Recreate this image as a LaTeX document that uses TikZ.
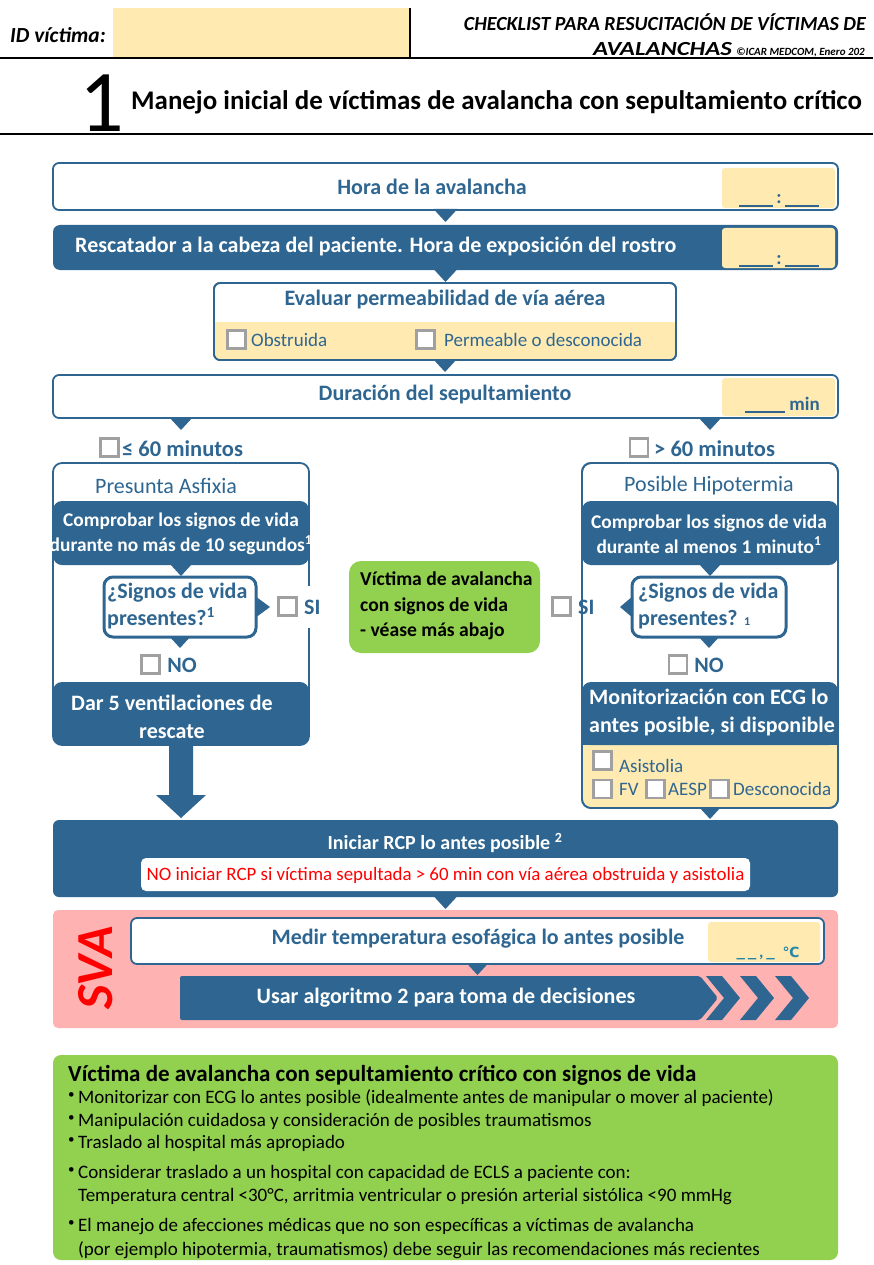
\documentclass[tikz,border=0pt]{standalone}
\usepackage{fontspec}
\setmainfont{Carlito}
\newfontfamily\djv{DejaVu Sans}
\usetikzlibrary{calc}
\definecolor{blu}{RGB}{46,102,145}
\definecolor{yel}{RGB}{255,234,178}
\definecolor{grn}{RGB}{146,208,80}
\definecolor{pnk}{RGB}{255,178,178}
\definecolor{chkg}{RGB}{160,160,160}
\definecolor{rd}{RGB}{255,0,0}
\newcommand\fsz[2]{\fontsize{#1pt}{#2pt}\selectfont}
\newcommand\blank{\rule[-3pt]{34pt}{1.8pt}}
\newcommand\dtri[2]{\fill[blu] ($#1+(-#2,-1)$) -- ($#1+(#2,-1)$) -- ($#1+(0,#2)$) -- cycle;}
\begin{document}
\begin{tikzpicture}[x=1pt,y=-1pt,
 box/.style={draw=blu,line width=1.8pt,fill=white,rounded corners=6pt,inner sep=0pt,outer sep=0pt},
 dark/.style={fill=blu,rounded corners=7pt,inner sep=0pt,outer sep=0pt},
 yb/.style={fill=yel,rounded corners=3pt,inner sep=0pt,outer sep=0pt},
 chk/.style={draw=chkg,line width=2.6pt,fill=white,minimum size=18pt,inner sep=0pt},
 tb/.style={inner sep=0pt,text=blu,font=\fsz{22}{26}\bfseries},
 tr/.style={inner sep=0pt,text=blu,font=\fsz{19}{23}},
 tw/.style={inner sep=0pt,text=white,font=\fsz{22}{28}\bfseries},
 tk/.style={inner sep=0pt,text=black,font=\fsz{19.6}{25.5}\bfseries},
 bl/.style={inner sep=0pt,anchor=base west,font=\fsz{19}{22}},
]
\useasboundingbox (0,0) rectangle (873,1265);
\clip (0,0) rectangle (873,1265);

% ---------- header
\node[fill=yel,minimum width=297pt,minimum height=49pt,inner sep=0pt,outer sep=0pt] (idbox) at (261.5,32.5) {};
\draw[line width=1.2pt] (idbox.north east) -- (idbox.south east);
\node[inner sep=0pt,anchor=west,font=\fsz{21.5}{24}\bfseries\itshape] (idl) at (10,35) {ID víctima:};
\node[inner sep=0pt,anchor=base east,font=\fsz{20}{22}\bfseries\itshape] (hd1) at (866,31) {CHECKLIST PARA RESUCITACIÓN DE VÍCTIMAS DE};
\node[inner sep=0pt,anchor=base west,font=\fsz{20}{22}\bfseries\itshape] (hd2) at (593,56) {\underline{\scalebox{1.24}[1]{AVALANCHAS}} {\fsz{11}{13}©ICAR MEDCOM, Enero 202}};
\draw[line width=2pt] (0,58) -- (873,58);
\node[inner sep=0pt,font=\fsz{88}{88}] (one) at (102,103) {1};
\node[inner sep=0pt,anchor=west,font=\fsz{26.9}{30}\bfseries] (ttl) at (131,102) {Manejo inicial de víctimas de avalancha con sepultamiento crítico};
\draw[line width=2pt] (0,134) -- (873,134);

% ---------- box 1
\node[box,minimum width=785pt,minimum height=47pt] (b1) at (445.5,186.5) {};
\node[yb,minimum width=113pt,minimum height=40pt] (y1) at (778.5,188) {};
\node[tb,anchor=base,font=\fsz{19}{22}\bfseries] (y1t) at (779,204) {\blank\,:\,\blank};
\node[tb] (b1t) at (432,187) {Hora de la avalancha};
\dtri{(b1.south)}{12}

% ---------- box 2
\node[dark,minimum width=785pt,minimum height=45pt] (b2) at (445.5,247.5) {};
\node[yb,minimum width=113pt,minimum height=40pt] (y2) at (778.5,248) {};
\node[tb,anchor=base,font=\fsz{19}{22}\bfseries] (y2t) at (779,264) {\blank\,:\,\blank};
\node[tw,anchor=west] (b2t) at (75,247) {Rescatador a la cabeza del paciente. Hora de exposición del rostro};
\dtri{(b2.south)}{12}

% ---------- box 3
\node[box,minimum width=462pt,minimum height=77pt] (b3) at (445,321.5) {};
\fill[yel,rounded corners=5pt] (215,322) rectangle (675,359.5);
\fill[yel] (215,322) rectangle (675,332);
\draw[blu,line width=1.8pt,rounded corners=6pt] (b3.north west) rectangle (b3.south east);
\node[tb] (b3t) at (445,300) {Evaluar permeabilidad de vía aérea};
\node[chk] (c3a) at (236.5,339.5) {};
\node[tr,anchor=west] (c3at) at (251,340) {Obstruida};
\node[chk] (c3b) at (425.5,339.5) {};
\node[tr,anchor=west] (c3bt) at (444,340) {Permeable o desconocida};
\dtri{(b3.south)}{12}

% ---------- box 4
\node[box,minimum width=785pt,minimum height=43pt] (b4) at (445.5,396.5) {};
\node[yb,minimum width=113pt,minimum height=38pt] (y4) at (778.5,397) {};
\node[tb,anchor=base east,font=\fsz{19}{22}\bfseries] (y4t) at (820,410) {\rule[-3pt]{40pt}{1.8pt} min};
\node[tb] (b4t) at (445,395) {Duración del sepultamiento};

% ---------- left column
\node[box,rounded corners=9pt,minimum width=256pt,minimum height=282pt] (L) at (181,604) {};
\coordinate (t4l) at (b4.south -| L.north);
\dtri{(t4l)}{12}
\node[chk] (cl) at (109.5,447.5) {};
\node[tb,anchor=west,font=\fsz{22.5}{26}\bfseries] (clt) at (122,449) {≤ 60 minutos};
\node[tr,font=\fsz{22}{26}] (Lt) at (166,486) {Presunta Asfixia};
\node[dark,rounded corners=9pt,minimum width=256pt,minimum height=64pt] (L1) at (181,533) {};
\node[tw,font=\fsz{19.4}{25}\bfseries,align=center] (L1t) at (181,534) {Comprobar los signos de vida\\durante no más de 10 segundos\textsuperscript{1}};
\dtri{(L1.south)}{11}
\node[box,line width=3pt,rounded corners=9pt,minimum width=152pt,minimum height=60pt] (LQ) at (180,607) {};
\fill[blu] ($(LQ.east)+(-1,-11)$) -- ($(LQ.east)+(14,0)$) -- ($(LQ.east)+(-1,11)$) -- cycle;
\node[tb,font=\fsz{22}{27}\bfseries,anchor=west,align=left] (LQt) at (107,606) {¿Signos de vida\\presentes?\textsuperscript{1}};
\node[chk] (clsi) at (287.5,606.5) {};
\node[tb,fill=white,inner sep=3pt,minimum height=42pt,anchor=west] (clsit) at (301,607) {SI};
\dtri{(LQ.south)}{11}
\node[chk] (clno) at (150.5,664.5) {};
\node[tb] (clnot) at (182,665) {NO};
\node[dark,rounded corners=9pt,minimum width=256pt,minimum height=63pt] (L2) at (181,713.5) {};
\node[tw,align=center] (L2t) at (172,717) {Dar 5 ventilaciones de\\rescate};

% ---------- middle green
\node[fill=grn,rounded corners=12pt,minimum width=191pt,minimum height=92pt,inner sep=0pt] (G) at (444.5,607) {};
\node[tk,anchor=west,align=left] (Gt) at (360,606) {Víctima de avalancha\\con signos de vida\\- véase más abajo};

% ---------- right column
\node[box,rounded corners=9pt,minimum width=256pt,minimum height=345pt] (R) at (710,635.5) {};
\coordinate (t4r) at (b4.south -| R.north);
\dtri{(t4r)}{12}
\node[chk] (cr) at (639,447.5) {};
\node[tb,anchor=west,font=\fsz{22.5}{26}\bfseries] (crt) at (654,449) {> 60 minutos};
\node[tr,font=\fsz{22}{26}] (Rt) at (709,486) {Posible Hipotermia};
\node[dark,rounded corners=9pt,minimum width=256pt,minimum height=64pt] (R1) at (710,533) {};
\node[tw,font=\fsz{19.4}{25}\bfseries,align=center] (R1t) at (709,534) {Comprobar los signos de vida\\durante al menos 1 minuto\textsuperscript{1}};
\dtri{(R1.south)}{11}
\node[box,line width=3pt,rounded corners=9pt,minimum width=154pt,minimum height=60pt] (RQ) at (709,607) {};
\fill[blu] ($(RQ.west)+(1,-11)$) -- ($(RQ.west)+(-12,0)$) -- ($(RQ.west)+(1,11)$) -- cycle;
\node[tb,font=\fsz{22}{27}\bfseries,anchor=west,align=left] (RQt) at (638,606) {¿Signos de vida\\presentes? {\fsz{12}{12}1}};
\node[chk] (crsi) at (561.5,606.5) {};
\node[tb,fill=white,inner sep=3pt,minimum height=42pt,anchor=west] (crsit) at (575,607) {SI};
\dtri{(RQ.south)}{11}
\node[chk] (crno) at (678,664.5) {};
\node[tb] (crnot) at (709,665) {NO};
\fill[yel,rounded corners=8pt] (583,730) rectangle (837,807);
\node[dark,rounded corners=9pt,minimum width=256pt,minimum height=63pt] (R2) at (710,713.5) {};
\fill[blu] ($(R2.south west)+(0,-12)$) rectangle (R2.south east);
\node[tw,anchor=west,align=left] (R2t) at (589,713) {Monitorización con ECG lo\\antes posible, si disponible};
\draw[blu,line width=1.8pt,rounded corners=9pt] (R.north west) rectangle (R.south east);
\node[chk] (e1) at (602.5,760.5) {};
\node[tr,anchor=west] (e1t) at (619,766) {Asistolia};
\node[chk] (e2) at (602.5,789) {};
\node[tr,anchor=west] (e2t) at (619,789) {FV};
\node[chk] (e3) at (655.5,789) {};
\node[tr,anchor=west] (e3t) at (668,789) {AESP};
\node[chk] (e4) at (719.5,789) {};
\node[tr,anchor=west] (e4t) at (733,789) {Desconocida};
\dtri{(R.south)}{11}

% ---------- RCP
\node[dark,rounded corners=6pt,minimum width=785pt,minimum height=77pt] (rcp) at (445.5,858.5) {};
\fill[blu] ($(L2.south)+(-12,-2)$) -- ($(L2.south)+(12,-2)$) -- ($(L2.south)+(12,50)$) -- ($(L2.south)+(25,50)$) -- ($(L2.south)+(0,73)$) -- ($(L2.south)+(-25,50)$) -- ($(L2.south)+(-12,50)$) -- cycle;
\node[tw,font=\fsz{20}{24}\bfseries] (rcpt) at (445,843) {Iniciar RCP lo antes posible \textsuperscript{2}};
\node[fill=white,rounded corners=5pt,minimum width=609pt,minimum height=33pt,inner sep=0pt] (nor) at (445.5,874.5) {};
\node[inner sep=0pt,text=rd,font=\fsz{18.9}{22}] (nort) at (445.5,875) {NO iniciar RCP si víctima sepultada > 60 min con vía aérea obstruida y asistolia};
\dtri{(rcp.south)}{12}

% ---------- SVA
\node[fill=pnk,rounded corners=5pt,minimum width=785pt,minimum height=118pt,inner sep=0pt] (sva) at (445.5,969) {};
\node[inner sep=0pt,text=rd,rotate=90,font=\fsz{52}{52}\bfseries\itshape] (svat) at (96,968) {SVA};
\node[box,minimum width=693pt,minimum height=46pt] (temp) at (477.5,941) {};
\node[yb,minimum width=112pt,minimum height=40pt] (yt) at (764,942) {};
\node[inner sep=0pt,anchor=base,text=blu!80!cyan,font=\fsz{17}{20}\bfseries] (ytt) at (768,957) {\_\,\_\,,\,\_\ \ {\djv\fsz{14}{14}℃}};
\node[tb] (tempt) at (478,939) {Medir temperatura esofágica lo antes posible};
\dtri{(temp.south)}{11}
\coordinate (us) at (446,998);
\fill[blu,rounded corners=2pt] (180,976) -- (700,976) -- (718,998) -- (700,1020) -- (180,1020) -- cycle;
\foreach \cx in {706,740,775}{
 \fill[blu] (\cx,976) -- (\cx+16,976) -- (\cx+34,998) -- (\cx+16,1020) -- (\cx,1020) -- (\cx+18,998) -- cycle;}
\node[tw] (ust) at (us) {Usar algoritmo 2 para toma de decisiones};

% ---------- bottom green
\node[fill=grn,rounded corners=8pt,minimum width=785pt,minimum height=205pt,inner sep=0pt] (info) at (445.5,1157.5) {};
\node[inner sep=0pt,anchor=base west,font=\fsz{23}{26}\bfseries] (it) at (68,1081) {Víctima de avalancha con sepultamiento crítico con signos de vida};
\foreach \yy/\tt in {1103/Monitorizar con ECG lo antes posible (idealmente antes de manipular o mover al paciente),1126/Manipulación cuidadosa y consideración de posibles traumatismos,1148/Traslado al hospital más apropiado,1178/Considerar traslado a un hospital con capacidad de ECLS a paciente con:,1231/El manejo de afecciones médicas que no son específicas a víctimas de avalancha}{
 \node[bl] at (78,\yy) {\tt};
 \node[inner sep=0pt,anchor=base west,font=\fsz{13}{13}] at (68,\yy-5) {•};}
\node[bl] (i5) at (78,1201) {Temperatura central <30°C, arritmia ventricular o presión arterial sistólica <90 mmHg};
\node[bl] (i7) at (78,1255) {(por ejemplo hipotermia, traumatismos) debe seguir las recomendaciones más recientes};
\end{tikzpicture}
\end{document}
